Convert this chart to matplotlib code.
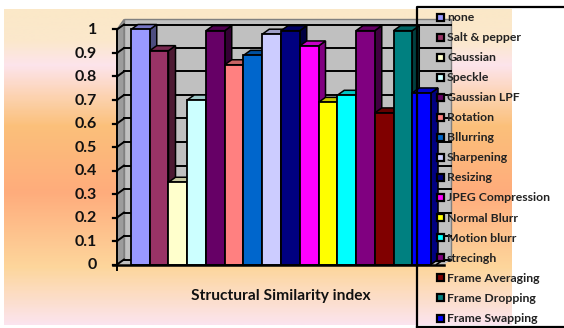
import numpy as np
import matplotlib
matplotlib.use("Agg")
import matplotlib.pyplot as plt
from matplotlib.colors import LinearSegmentedColormap, to_rgb
from matplotlib.patches import Polygon, Rectangle

categories = ["none", "Salt & pepper", "Gaussian", "Speckle", "Gaussian LPF", "Rotation",
              "Bllurring", "Sharpening", "Resizing", "JPEG Compression", "Normal Blurr",
              "Motion blurr", "strecingh", "Frame Averaging", "Frame Dropping", "Frame Swapping"]
values = [1.0, 0.91, 0.35, 0.70, 0.995, 0.85, 0.89, 0.98, 0.995, 0.93, 0.69, 0.72, 0.995, 0.645, 0.995, 0.73]
colors = ["#9999FF", "#993366", "#FFFFCC", "#CCFFFF", "#660066", "#FF8080", "#0066CC", "#CCCCFF",
          "#000080", "#FF00FF", "#FFFF00", "#00FFFF", "#800080", "#800000", "#008080", "#0000FF"]
yticks = [0, 0.1, 0.2, 0.3, 0.4, 0.5, 0.6, 0.7, 0.8, 0.9, 1]
ytick_labels = ["0", "0.1", "0.2", "0.3", "0.4", "0.5", "0.6", "0.7", "0.8", "0.9", "1"]
xlabel = "Structural Similarity index"

W, H = 564, 328
plt.rcParams["font.family"] = ["Lato", "DejaVu Sans"]
fig = plt.figure(figsize=(W / 100, H / 100), dpi=100, facecolor="white")

# gradient background
bg = fig.add_axes([4 / W, 1 - 325 / H, 508 / W, 316 / H], zorder=0)
cmap = LinearSegmentedColormap.from_list("bg", [(0, "#FBE8C8"), (0.10, "#FBE8CC"), (0.175, "#FDE4EC"),
                                                (0.29, "#FCD0A8"), (0.37, "#FBC07A"), (0.58, "#FFAC7C"),
                                                (0.82, "#FDD69C"), (1, "#FBE4EE")])
bg.imshow(np.linspace(0, 1, 300)[:, None], aspect="auto", cmap=cmap)
bg.axis("off")

# main axes: one category = 18.75 px, one unit of value = 235 px
ax = fig.add_axes([0, 0, 1, 1], zorder=1)
ax.set_xlim(-131 / 18.75, (W - 131) / 18.75)
ax.set_ylim((264.5 - H) / 235, 264.5 / 235)
ax.axis("off")
dx, dy = 7 / 18.75, 5 / 235
x0 = -14 / 18.75
x1 = 17.07

# back wall, left wall, floor
ax.add_patch(Polygon([(x0 + dx, dy), (x1, dy), (x1, 1 + 2 * dy), (x0 + dx, 1 + 2 * dy)],
                     fc="#C0C0C0", ec="#808080", lw=1, zorder=1))
ax.add_patch(Polygon([(x0, 0), (x0 + dx, dy), (x0 + dx, 1 + 2 * dy), (x0, 1)],
                     fc="#9C9C9C", ec="#808080", lw=1, zorder=1))
ax.add_patch(Polygon([(x0, 0), (x1 - dx, 0), (x1, dy), (x0 + dx, dy)], fc="#C0C0C0", ec="none", zorder=1))

for t, lab in zip(yticks, ytick_labels):
    ax.plot([x0 + dx, x1], [t + dy, t + dy], color="black", lw=1.4, zorder=2)
    ax.plot([x0, x0 + dx], [t, t + dy], color="black", lw=1.4, zorder=2)
    ax.plot([x0 - 0.2, x0], [t, t], color="black", lw=1.6, zorder=2)
    ax.text(x0 - 1.07, t - 0.004, lab, ha="right", va="center", fontsize=11.5, fontweight="bold",
            color="#111111", zorder=6)

# bars, front face with lit top and shaded side
for i, (v, c) in enumerate(zip(values, colors)):
    rgb = np.array(to_rgb(c))
    ax.add_patch(Polygon([(i + 1, 0), (i + 1 + dx, dy), (i + 1 + dx, v + dy), (i + 1, v)],
                         fc=rgb * 0.5, ec="black", lw=1.1, zorder=3 + i * 0.01))
    ax.add_patch(Polygon([(i, v), (i + dx, v + dy), (i + 1 + dx, v + dy), (i + 1, v)],
                         fc=rgb * 0.78, ec="black", lw=1.1, zorder=3 + i * 0.01))
    ax.add_patch(Rectangle((i, 0), 1, v, fc=c, ec="black", lw=1.3, zorder=3 + i * 0.01))

ax.plot([x0 - 0.2, x1 - dx], [0, 0], color="black", lw=1.8, zorder=4)
ax.plot([x0, x0], [0, 1], color="black", lw=1.4, zorder=4)
ax.plot([x0, x0], [-0.025, 0], color="black", lw=1.4, zorder=4)
ax.plot([x1 - dx - 0.4, x1 - 0.4], [0, dy], color="black", lw=1.2, zorder=4)
ax.text(8.0, -0.134, xlabel, ha="center", va="center", fontsize=11.2, fontweight="bold", color="#111111", zorder=6)

# legend drawn in figure pixel coordinates
leg = fig.add_axes([0, 0, 1, 1], zorder=2)
leg.set_xlim(0, W)
leg.set_ylim(H, 0)
leg.axis("off")
leg.plot([417, 417, W], [328, 6.5, 6.5], color="black", lw=1.6, solid_capstyle="butt")
leg.plot([417, W], [327, 327], color="black", lw=1.6)
ys = 17 + np.arange(len(categories)) * 20.07
for y, c, name in zip(ys, colors, categories):
    leg.add_patch(Rectangle((437, y - 3.5), 7, 7, fc=c, ec="black", lw=1.6))
    leg.text(447, y + 0.3, name, ha="left", va="center", fontsize=8.8, fontweight="bold", color="#222222")

fig.savefig("out.png", dpi=100, facecolor="white")
